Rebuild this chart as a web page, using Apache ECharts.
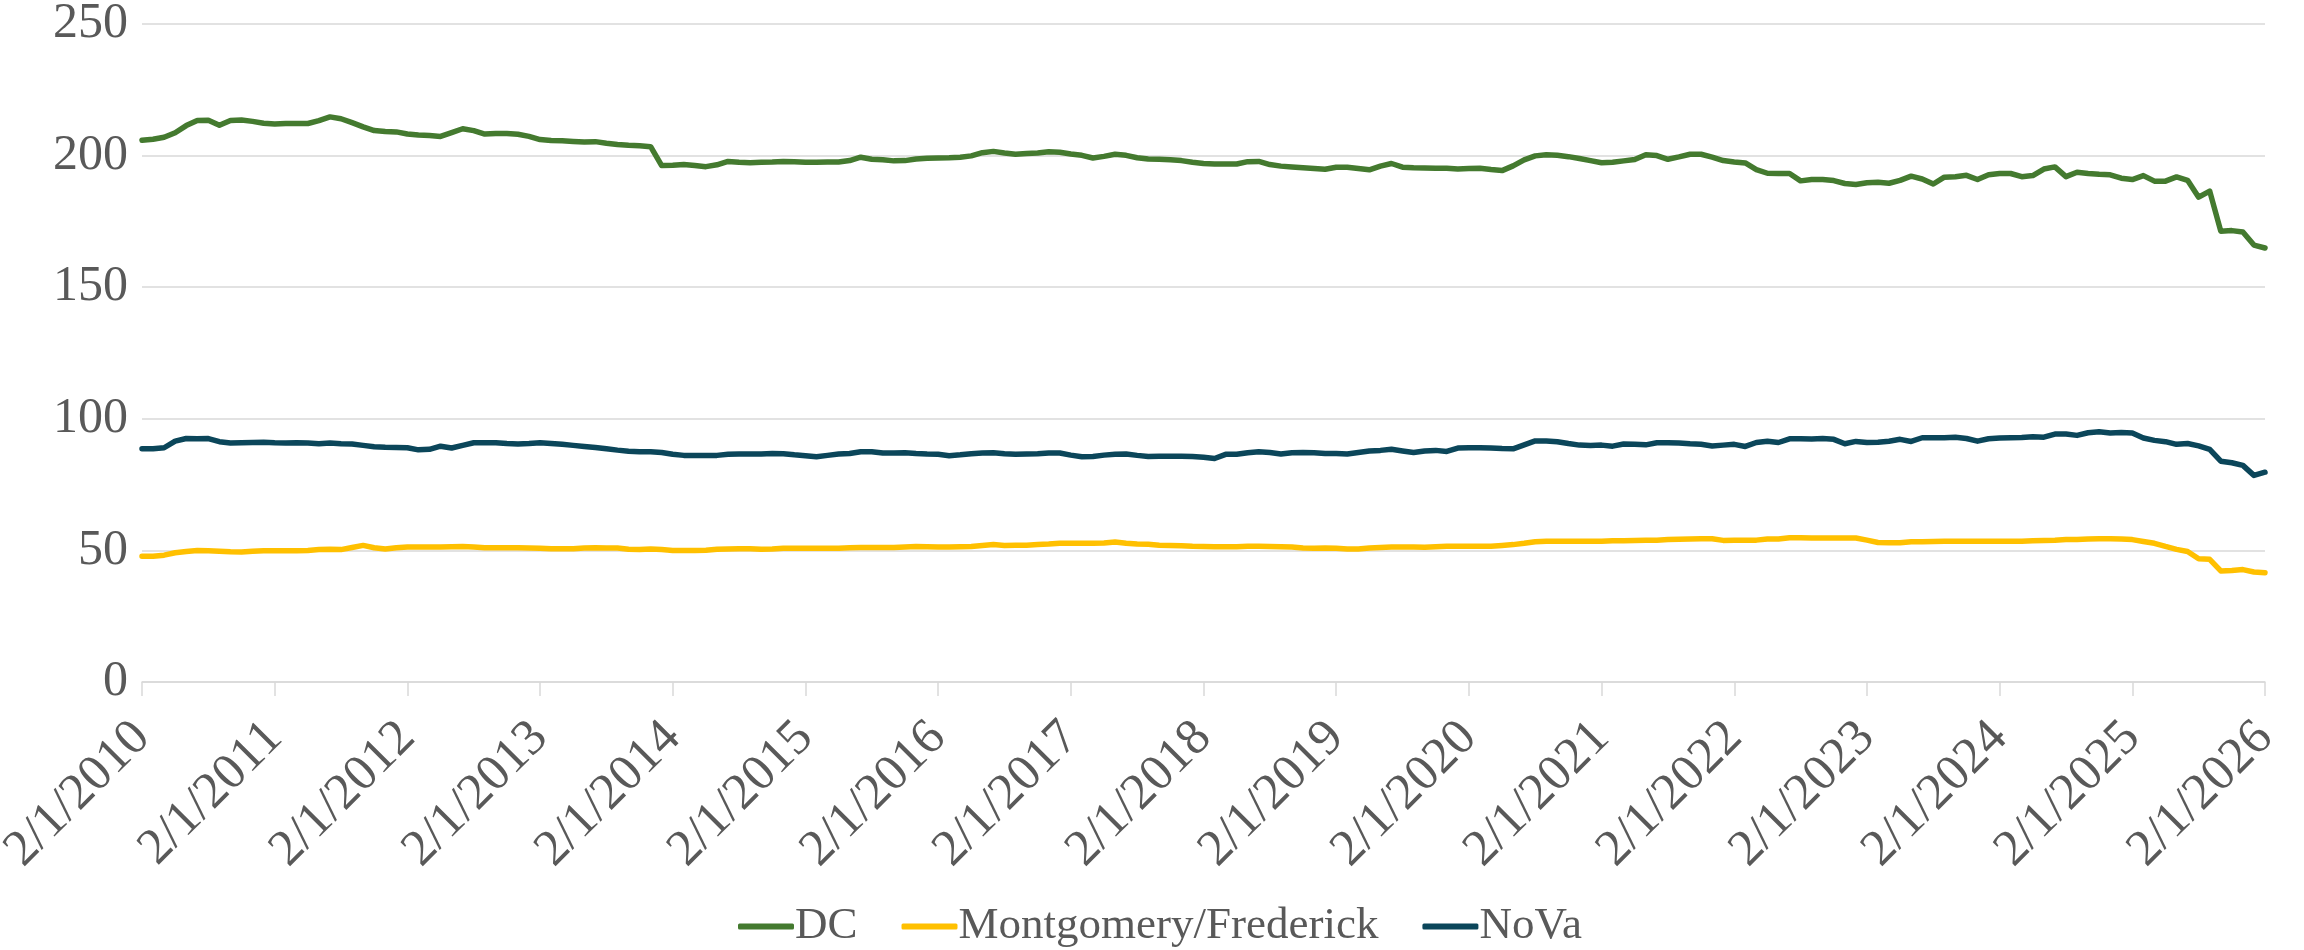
<!DOCTYPE html>
<html>
<head>
<meta charset="utf-8">
<script src="https://cdn.jsdelivr.net/npm/echarts@6/dist/echarts.min.js"></script>
<style>
  html, body { margin: 0; padding: 0; background: #fff; }
  #main { width: 2304px; height: 950px; }
</style>
</head>
<body>
<div id="main"></div>
<script>
// months from 2/1/2010 to 2/1/2026
var months = [];
for (var k = 0; k < 193; k++) {
  var m = (1 + k) % 12 + 1;
  var y = 2010 + Math.floor((1 + k) / 12);
  months.push(m + '/1/' + y);
}

var yTicks = [0, 50, 100, 150, 200, 250];

var dc = [
  205.8, 206.2, 207.0, 208.7, 211.4, 213.3, 213.4, 211.5, 213.3, 213.5,
  213.0, 212.3, 212.0, 212.2, 212.2, 212.2, 213.3, 214.7, 214.0, 212.5,
  210.9, 209.5, 209.2, 209.0, 208.2, 207.8, 207.6, 207.3, 208.7, 210.2,
  209.5, 208.2, 208.4, 208.4, 208.1, 207.3, 206.1, 205.7, 205.6, 205.4,
  205.2, 205.3, 204.7, 204.2, 203.9, 203.7, 203.4, 196.2, 196.3, 196.6,
  196.2, 195.8, 196.5, 197.8, 197.5, 197.3, 197.5, 197.6, 197.8, 197.7,
  197.5, 197.5, 197.6, 197.6, 198.1, 199.4, 198.6, 198.4, 198.0, 198.1,
  198.7, 199.0, 199.1, 199.2, 199.4, 199.9, 201.1, 201.6, 201.0, 200.5,
  200.8, 201.0, 201.5, 201.3, 200.6, 200.1, 199.1, 199.7, 200.5, 200.1,
  199.2, 198.7, 198.6, 198.4, 198.1, 197.5, 197.0, 196.8, 196.8, 196.8,
  197.7, 197.8, 196.6, 196.0, 195.7, 195.4, 195.1, 194.8, 195.6, 195.6,
  195.1, 194.6, 196.0, 197.0, 195.6, 195.4, 195.3, 195.2, 195.2, 194.9,
  195.1, 195.2, 194.7, 194.3, 196.1, 198.4, 199.9, 200.3, 200.1, 199.6,
  198.9, 198.1, 197.3, 197.5, 198.0, 198.5, 200.3, 200.0, 198.6, 199.5,
  200.5, 200.5, 199.4, 198.1, 197.6, 197.2, 194.7, 193.3, 193.2, 193.2,
  190.4, 190.9, 190.9, 190.5, 189.4, 189.0, 189.7, 189.9, 189.5, 190.6,
  192.2, 191.1, 189.2, 191.8, 192.0, 192.5, 190.9, 192.7, 193.2, 193.2,
  192.0, 192.4, 194.9, 195.7, 192.0, 193.7, 193.2, 192.9, 192.7, 191.4,
  190.9, 192.4, 190.3, 190.3, 191.9, 190.6, 184.2, 186.5, 171.3, 171.5,
  171.0, 166.0, 164.9
];

var montgomery = [
  47.8, 47.8, 48.2, 49.1, 49.6, 50.0, 49.9, 49.7, 49.5, 49.4,
  49.7, 49.9, 49.9, 49.9, 49.9, 50.0, 50.3, 50.4, 50.3, 51.1,
  51.9, 51.0, 50.5, 51.0, 51.3, 51.3, 51.3, 51.3, 51.4, 51.5,
  51.3, 51.0, 51.0, 51.0, 51.0, 50.9, 50.8, 50.6, 50.6, 50.6,
  50.9, 51.0, 50.9, 50.9, 50.4, 50.3, 50.5, 50.3, 50.0, 50.0,
  50.0, 50.1, 50.4, 50.5, 50.6, 50.6, 50.4, 50.5, 50.8, 50.8,
  50.8, 50.8, 50.8, 50.8, 51.0, 51.1, 51.1, 51.1, 51.1, 51.3,
  51.5, 51.4, 51.3, 51.3, 51.4, 51.5, 51.9, 52.2, 51.9, 52.0,
  52.0, 52.2, 52.4, 52.7, 52.7, 52.7, 52.7, 52.8, 53.2, 52.7,
  52.4, 52.3, 52.0, 51.9, 51.8, 51.6, 51.5, 51.4, 51.4, 51.4,
  51.6, 51.6, 51.5, 51.4, 51.3, 50.9, 50.8, 50.9, 50.8, 50.5,
  50.5, 50.9, 51.1, 51.3, 51.3, 51.3, 51.2, 51.4, 51.6, 51.6,
  51.6, 51.6, 51.6, 51.9, 52.2, 52.7, 53.3, 53.5, 53.5, 53.5,
  53.5, 53.5, 53.5, 53.7, 53.7, 53.8, 53.9, 53.9, 54.1, 54.2,
  54.3, 54.4, 54.4, 53.8, 53.9, 53.9, 53.9, 54.3, 54.3, 54.8,
  54.8, 54.7, 54.7, 54.7, 54.7, 54.7, 53.9, 53.0, 52.9, 52.9,
  53.3, 53.3, 53.4, 53.5, 53.5, 53.5, 53.5, 53.5, 53.5, 53.5,
  53.5, 53.7, 53.8, 53.9, 54.1, 54.1, 54.3, 54.4, 54.4, 54.3,
  54.1, 53.4, 52.7, 51.5, 50.4, 49.6, 46.8, 46.6, 42.2, 42.4,
  42.7, 41.8, 41.5
];

var nova = [
  88.6, 88.6, 89.0, 91.5, 92.5, 92.4, 92.5, 91.3, 90.8, 90.9,
  91.0, 91.1, 90.9, 90.8, 90.9, 90.8, 90.5, 90.8, 90.5, 90.4,
  89.9, 89.4, 89.2, 89.1, 89.0, 88.2, 88.4, 89.6, 88.9, 89.9,
  90.9, 90.9, 90.9, 90.6, 90.4, 90.6, 90.9, 90.6, 90.3, 89.9,
  89.5, 89.1, 88.6, 88.1, 87.7, 87.5, 87.5, 87.2, 86.5, 86.1,
  86.1, 86.1, 86.1, 86.5, 86.6, 86.6, 86.6, 86.8, 86.7, 86.3,
  86.0, 85.6, 86.1, 86.6, 86.8, 87.5, 87.5, 87.0, 87.0, 87.1,
  86.8, 86.6, 86.5, 86.0, 86.3, 86.7, 87.0, 87.1, 86.7, 86.5,
  86.6, 86.7, 87.0, 87.0, 86.2, 85.6, 85.7, 86.2, 86.5, 86.6,
  86.1, 85.7, 85.8, 85.8, 85.8, 85.7, 85.4, 84.9, 86.5, 86.5,
  87.1, 87.5, 87.2, 86.6, 87.1, 87.2, 87.1, 86.8, 86.8, 86.6,
  87.2, 87.8, 88.0, 88.4, 87.8, 87.2, 87.8, 88.0, 87.6, 88.9,
  89.0, 89.0, 88.9, 88.7, 88.6, 90.1, 91.6, 91.6, 91.3, 90.6,
  90.0, 89.9, 90.0, 89.6, 90.4, 90.3, 90.1, 90.9, 90.9, 90.8,
  90.5, 90.3, 89.7, 90.0, 90.3, 89.5, 91.0, 91.5, 91.0, 92.4,
  92.4, 92.3, 92.5, 92.2, 90.5, 91.4, 91.0, 91.1, 91.5, 92.2,
  91.4, 92.8, 92.8, 92.8, 93.0, 92.5, 91.5, 92.4, 92.7, 92.8,
  92.9, 93.2, 93.0, 94.2, 94.2, 93.7, 94.7, 95.1, 94.6, 94.8,
  94.6, 92.7, 91.8, 91.3, 90.3, 90.6, 89.7, 88.4, 83.9, 83.3,
  82.3, 78.5, 79.7
];

var FONT = '"Liberation Serif", "DejaVu Serif", serif';
var TEXT = '#595959';
var GRID = '#d9d9d9';

function lineSeries(name, values, color) {
  return {
    name: name,
    type: 'line',
    data: values,
    symbol: 'none',
    smooth: false,
    lineStyle: { color: color, width: 5.5, cap: 'round', join: 'round' },
    itemStyle: { color: color }
  };
}

var chart = echarts.init(document.getElementById('main'));
chart.setOption({
  animation: false,
  backgroundColor: '#fff',
  grid: {
    left: 142, right: 39, top: 24, bottom: 268,
    containLabel: false, outerBoundsMode: 'none'
  },
  legend: {
    data: ['DC', 'Montgomery/Frederick', 'NoVa'],
    left: 733,
    top: 899,
    icon: 'roundRect',
    itemWidth: 56,
    itemHeight: 6,
    itemGap: 44,
    textStyle: { fontFamily: FONT, fontSize: 45, color: TEXT, padding: [0, 0, 0, -4] }
  },
  xAxis: {
    type: 'category',
    data: months,
    boundaryGap: false,
    axisLine: { lineStyle: { color: GRID, width: 1.5 } },
    axisTick: { interval: 11, length: 14, lineStyle: { color: GRID, width: 1.5 } },
    axisLabel: {
      interval: 11,
      rotate: 45,
      margin: 48,
      fontFamily: FONT,
      fontSize: 51,
      color: TEXT
    },
    splitLine: { show: false }
  },
  yAxis: {
    type: 'value',
    min: yTicks[0],
    max: yTicks[yTicks.length - 1],
    interval: 50,
    axisLine: { show: false },
    axisTick: { show: false },
    axisLabel: { margin: 14, fontFamily: FONT, fontSize: 50, color: TEXT },
    splitLine: { lineStyle: { color: GRID, width: 1.5 } }
  },
  series: [
    lineSeries('DC', dc, '#447a2f'),
    lineSeries('Montgomery/Frederick', montgomery, '#ffc000'),
    lineSeries('NoVa', nova, '#0b465a')
  ]
});
</script>
</body>
</html>
